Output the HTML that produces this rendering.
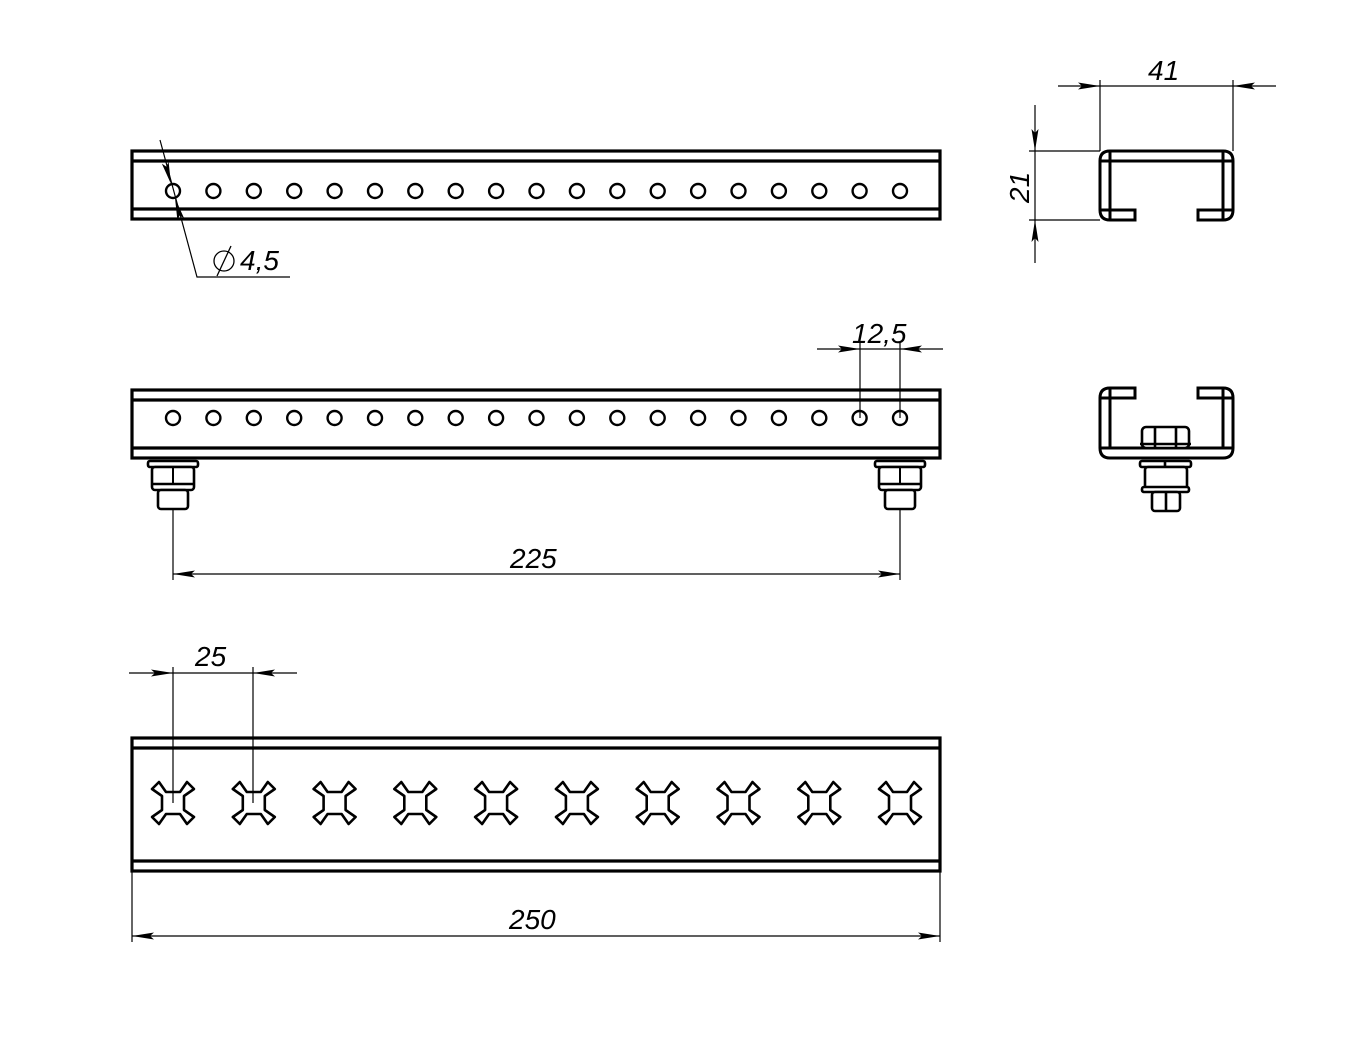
<!DOCTYPE html>
<html><head><meta charset="utf-8"><style>
html,body{margin:0;padding:0;background:#fff}
svg{display:block}
text{font-family:"Liberation Sans",sans-serif;font-style:italic;font-size:28px;fill:#000}
</style></head><body>
<svg width="1357" height="1055" viewBox="0 0 1357 1055" xmlns="http://www.w3.org/2000/svg">
<defs>
<circle id="h" r="7" fill="none" stroke="#000" stroke-width="2.4"/>
<path id="x" d="M-7,-11 L7,-11 L14,-21 L21,-14 L11,-7 L11,7 L21,14 L14,21 L7,11 L-7,11 L-14,21 L-21,14 L-11,7 L-11,-7 L-21,-14 L-14,-21 Z" fill="none" stroke="#000" stroke-width="2.6" stroke-linejoin="round"/>
<g id="bs">
<rect x="-25" y="461" width="50" height="6" rx="2" fill="#fff" stroke="#000" stroke-width="2.6"/>
<rect x="-21" y="467" width="42" height="23" rx="3" fill="#fff" stroke="#000" stroke-width="2.6"/>
<line x1="0" y1="467" x2="0" y2="484" stroke="#000" stroke-width="2"/>
<line x1="-21" y1="484" x2="21" y2="484" stroke="#000" stroke-width="2.4"/>
<rect x="-15" y="490" width="30" height="19" rx="3" fill="#fff" stroke="#000" stroke-width="2.6"/>
</g>
<path id="ar" d="M0,0 L-22,-3.5 L-18,0 L-22,3.5 Z" fill="#000"/>
</defs>

<g fill="none" stroke="#000" stroke-width="3.2">
<!-- top bar -->
<rect x="132" y="151" width="808" height="68"/>
<line x1="132" y1="161" x2="940" y2="161"/>
<line x1="132" y1="209" x2="940" y2="209"/>
<!-- middle bar -->
<rect x="132" y="390" width="808" height="68"/>
<line x1="132" y1="400" x2="940" y2="400"/>
<line x1="132" y1="448" x2="940" y2="448"/>
<!-- bottom bar -->
<rect x="132" y="738" width="808" height="133"/>
<line x1="132" y1="748" x2="940" y2="748"/>
<line x1="132" y1="861" x2="940" y2="861"/>
</g>

<g>
<use href="#h" x="173" y="191"/><use href="#h" x="213.4" y="191"/><use href="#h" x="253.8" y="191"/><use href="#h" x="294.2" y="191"/><use href="#h" x="334.6" y="191"/><use href="#h" x="375" y="191"/><use href="#h" x="415.3" y="191"/><use href="#h" x="455.7" y="191"/><use href="#h" x="496.1" y="191"/><use href="#h" x="536.5" y="191"/><use href="#h" x="576.9" y="191"/><use href="#h" x="617.3" y="191"/><use href="#h" x="657.7" y="191"/><use href="#h" x="698.1" y="191"/><use href="#h" x="738.5" y="191"/><use href="#h" x="778.9" y="191"/><use href="#h" x="819.3" y="191"/><use href="#h" x="859.6" y="191"/><use href="#h" x="900" y="191"/>
<use href="#h" x="173" y="418"/><use href="#h" x="213.4" y="418"/><use href="#h" x="253.8" y="418"/><use href="#h" x="294.2" y="418"/><use href="#h" x="334.6" y="418"/><use href="#h" x="375" y="418"/><use href="#h" x="415.3" y="418"/><use href="#h" x="455.7" y="418"/><use href="#h" x="496.1" y="418"/><use href="#h" x="536.5" y="418"/><use href="#h" x="576.9" y="418"/><use href="#h" x="617.3" y="418"/><use href="#h" x="657.7" y="418"/><use href="#h" x="698.1" y="418"/><use href="#h" x="738.5" y="418"/><use href="#h" x="778.9" y="418"/><use href="#h" x="819.3" y="418"/><use href="#h" x="859.6" y="418"/><use href="#h" x="900" y="418"/>
<use href="#x" x="173" y="803"/><use href="#x" x="253.8" y="803"/><use href="#x" x="334.6" y="803"/><use href="#x" x="415.3" y="803"/><use href="#x" x="496.1" y="803"/><use href="#x" x="576.9" y="803"/><use href="#x" x="657.7" y="803"/><use href="#x" x="738.5" y="803"/><use href="#x" x="819.3" y="803"/><use href="#x" x="900" y="803"/>
<use href="#bs" x="173" y="0"/><use href="#bs" x="900" y="0"/>
</g>

<!-- profile top -->
<g fill="none" stroke="#000" stroke-width="3">
<path d="M1135,220 L1110,220 Q1100,220 1100,210 L1100,161 Q1100,151 1110,151 L1223,151 Q1233,151 1233,161 L1233,210 Q1233,220 1223,220 L1198,220 L1198,210 L1223,210 L1223,161 L1110,161 L1110,210 L1135,210 Z"/>
<line x1="1100" y1="161" x2="1110" y2="161"/><line x1="1100" y1="210" x2="1110" y2="210"/>
<line x1="1223" y1="151" x2="1223" y2="161"/><line x1="1223" y1="210" x2="1233" y2="210"/><line x1="1223" y1="161" x2="1233" y2="161"/>
<line x1="1110" y1="151" x2="1110" y2="161"/><line x1="1110" y1="210" x2="1110" y2="220"/><line x1="1223" y1="210" x2="1223" y2="220"/>
<!-- profile bottom (open top) -->
<path d="M1135,388 L1110,388 Q1100,388 1100,398 L1100,448 Q1100,458 1110,458 L1223,458 Q1233,458 1233,448 L1233,398 Q1233,388 1223,388 L1198,388 L1198,398 L1223,398 L1223,448 L1110,448 L1110,398 L1135,398 Z"/>
<line x1="1100" y1="398" x2="1110" y2="398"/><line x1="1223" y1="398" x2="1233" y2="398"/>
<line x1="1100" y1="448" x2="1110" y2="448"/><line x1="1223" y1="448" x2="1233" y2="448"/>
<line x1="1110" y1="388" x2="1110" y2="398"/><line x1="1223" y1="388" x2="1223" y2="398"/>
</g>
<g fill="#fff" stroke="#000" stroke-width="2.6">
<rect x="1142" y="427" width="47" height="21" rx="4"/>
<line x1="1155" y1="427" x2="1155" y2="448"/><line x1="1176" y1="427" x2="1176" y2="448"/>
<line x1="1140" y1="444" x2="1191" y2="444"/>
<rect x="1140" y="461" width="51" height="6" rx="2"/>
<rect x="1145" y="467" width="42" height="22" rx="3"/>
<line x1="1165" y1="461" x2="1165" y2="467"/>
<rect x="1142" y="487" width="47" height="5" rx="2"/>
<rect x="1152" y="492" width="28" height="19" rx="3"/>
<line x1="1166" y1="492" x2="1166" y2="511"/>
</g>

<!-- dimension lines -->
<g stroke="#000" stroke-width="1.2" fill="none">
<!-- 41 -->
<line x1="1058" y1="86" x2="1276" y2="86"/>
<line x1="1100" y1="80" x2="1100" y2="151"/>
<line x1="1233" y1="80" x2="1233" y2="151"/>
<!-- 21 -->
<line x1="1035" y1="105" x2="1035" y2="263"/>
<line x1="1029" y1="151" x2="1100" y2="151"/>
<line x1="1029" y1="220" x2="1100" y2="220"/>
<!-- 12,5 -->
<line x1="817" y1="349" x2="943" y2="349"/>
<line x1="860" y1="343" x2="860" y2="418"/>
<line x1="900" y1="343" x2="900" y2="418"/>
<!-- 225 -->
<line x1="173" y1="510" x2="173" y2="580"/>
<line x1="900" y1="510" x2="900" y2="580"/>
<line x1="173" y1="574" x2="900" y2="574"/>
<!-- 25 -->
<line x1="129" y1="673" x2="297" y2="673"/>
<line x1="173" y1="667" x2="173" y2="803"/>
<line x1="253" y1="667" x2="253" y2="803"/>
<!-- 250 -->
<line x1="132" y1="871" x2="132" y2="942"/>
<line x1="940" y1="871" x2="940" y2="942"/>
<line x1="132" y1="936" x2="940" y2="936"/>
<!-- diameter leader -->
<polyline points="160,140 197,277 290,277"/>
</g>
<g>
<use href="#ar" transform="translate(1100,86)"/>
<use href="#ar" transform="translate(1233,86) rotate(180)"/>
<use href="#ar" transform="translate(1035,151) rotate(90)"/>
<use href="#ar" transform="translate(1035,220) rotate(-90)"/>
<use href="#ar" transform="translate(860,349)"/>
<use href="#ar" transform="translate(900,349) rotate(180)"/>
<use href="#ar" transform="translate(173,574) rotate(180)"/>
<use href="#ar" transform="translate(900,574)"/>
<use href="#ar" transform="translate(173,673)"/>
<use href="#ar" transform="translate(253,673) rotate(180)"/>
<use href="#ar" transform="translate(132,936) rotate(180)"/>
<use href="#ar" transform="translate(940,936)"/>
<use href="#ar" transform="translate(171,184) rotate(74.8)"/>
<use href="#ar" transform="translate(175,198) rotate(-105.2)"/>
</g>

<text x="1148" y="80">41</text>
<text transform="translate(1029,203) rotate(-90)">21</text>
<text x="852" y="343">12,5</text>
<text x="510" y="568">225</text>
<text x="195" y="666">25</text>
<text x="509" y="929">250</text>
<text x="240" y="270">4,5</text>
<circle cx="224" cy="261" r="10" fill="none" stroke="#000" stroke-width="1.3"/>
<line x1="217" y1="276" x2="231" y2="246" stroke="#000" stroke-width="1.3"/>
</svg>
</body></html>
